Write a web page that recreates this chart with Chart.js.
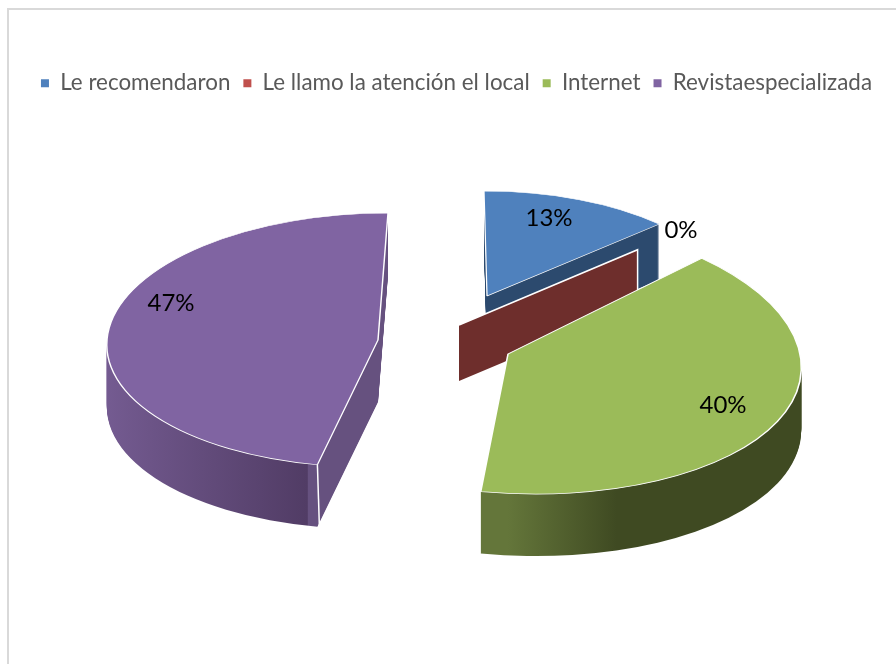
<!DOCTYPE html>
<html>
<head>
<meta charset="utf-8">
<style>
  html, body { margin: 0; background: #fff; overflow: hidden; }
  #frame { position: absolute; left: 7px; top: 8px; width: 889px; height: 656px; border-left: 2px solid #d9d9d9; border-top: 2px solid #d9d9d9; box-sizing: border-box; }
  canvas { position: absolute; left: 0; top: 0; }
</style>
<script src="https://cdn.jsdelivr.net/npm/chart.js@4"></script>
</head>
<body>
<div id="frame"></div>
<canvas id="pie3d" width="896" height="664"></canvas>
<script>
const categories = ['Le recomendaron', 'Le llamo la atención el local', 'Internet', 'Revistaespecializada'];
const shares = [13, 0, 40, 47];
const topColors = ['#4f81bd', '#c0504d', '#9bbb59', '#8064a2'];

// Excel's exploded 3D pie: every slice gets its own projection of the circle
const views = [
    { cx: 487, cy: 296, rx: 239, ry: 105, skew: 3, depth: 56 },
    { cx: 459, cy: 325, rx: 245, ry: 110, skew: 0, depth: 56 },
    { cx: 508, cy: 354, rx: 292, ry: 140, skew: 28, depth: 62 },
    { cx: 378, cy: 340, rx: 271, ry: 127, skew: -10, depth: 62 }
];

// side wall shading, [screen x, colour]
const wallStops = [
    [[480, '#2c4a6e'], [660, '#2c4a6e']],
    [[459, '#6e2e2c'], [640, '#6e2e2c']],
    [[480, '#64763a'], [590, '#3f4a22'], [800, '#3f4a22']],
    [[108, '#745b91'], [317, '#513c65'], [318, '#66517f'], [392, '#66517f']]
];

const labelSpots = [[549, 218], [681, 230], [723, 405], [171, 303]];

function applyView(ctx, arc, view, drop) {
    const R = arc.outerRadius;
    ctx.translate(view.cx, view.cy + drop);
    ctx.transform(view.rx / R, 0, view.skew / R, view.ry / R, 0, 0);
    ctx.translate(-arc.x, -arc.y);
}

function wallFill(ctx, arc, view, stops) {
    const R = arc.outerRadius;
    const toArc = sx => arc.x + (sx - view.cx) * R / view.rx;
    const x0 = toArc(stops[0][0]);
    const x1 = toArc(stops[stops.length - 1][0]);
    const grad = ctx.createLinearGradient(x0, 0, x1, 0);
    stops.forEach(s => grad.addColorStop((toArc(s[0]) - x0) / (x1 - x0), s[1]));
    return grad;
}

const pie3dPlugin = {
    id: 'pie3d',
    beforeDatasetsDraw(chart) {
        const ctx = chart.ctx;
        const arcs = chart.getDatasetMeta(0).data;
        arcs.forEach((arc, i) => {
            const view = views[i];
            const top = arc.options;
            if (arc.circumference === 0) {
                // empty slice: only its cut wall shows
                const a = arc.startAngle;
                const ox = arc.x + Math.cos(a) * arc.outerRadius;
                const oy = arc.y + Math.sin(a) * arc.outerRadius;
                const pt = (x, y, d) => {
                    const R = arc.outerRadius;
                    return [view.cx + (x - arc.x) * view.rx / R + (y - arc.y) * view.skew / R,
                            view.cy + (y - arc.y) * view.ry / R + d];
                };
                const p = [pt(arc.x, arc.y, 0), pt(ox, oy, 0), pt(ox, oy, view.depth), pt(arc.x, arc.y, view.depth)];
                ctx.save();
                ctx.beginPath();
                p.forEach((q, k) => k ? ctx.lineTo(q[0], q[1]) : ctx.moveTo(q[0], q[1]));
                ctx.closePath();
                ctx.fillStyle = wallStops[i][0][1];
                ctx.fill();
                ctx.beginPath();
                ctx.moveTo(p[0][0], p[0][1]);
                ctx.lineTo(p[1][0], p[1][1]);
                ctx.lineTo(p[2][0], p[2][1]);
                ctx.strokeStyle = '#fff';
                ctx.lineWidth = 1.5;
                ctx.stroke();
                ctx.restore();
                return;
            }
            ctx.save();
            applyView(ctx, arc, view, 0);
            const wall = wallFill(ctx, arc, view, wallStops[i]);
            ctx.restore();
            arc.options = Object.assign({}, top, { backgroundColor: wall, borderWidth: 0 });
            for (let d = view.depth; d > 0; d--) {
                ctx.save();
                applyView(ctx, arc, view, d);
                arc.draw(ctx);
                ctx.restore();
            }
            arc.options = top;
            ctx.save();
            applyView(ctx, arc, view, 0);
            arc.draw(ctx);
            ctx.restore();
        });
        // white corner where the purple rim meets its cut wall
        const last = arcs[3];
        const v = views[3];
        const cx = v.cx + Math.cos(last.startAngle) * v.rx + Math.sin(last.startAngle) * v.skew;
        const cy = v.cy + Math.sin(last.startAngle) * v.ry;
        ctx.save();
        ctx.strokeStyle = '#fff';
        ctx.lineWidth = 1.5;
        ctx.beginPath();
        ctx.moveTo(cx, cy);
        ctx.lineTo(cx + 2, cy + v.depth);
        ctx.stroke();
        ctx.restore();
        return false;
    },
    afterDraw(chart) {
        const ctx = chart.ctx;
        ctx.save();
        ctx.font = '24px Lato';
        ctx.fillStyle = '#000';
        ctx.textAlign = 'center';
        ctx.textBaseline = 'middle';
        shares.forEach((v, i) => ctx.fillText(v + '%', labelSpots[i][0], labelSpots[i][1]));
        ctx.restore();
    }
};

new Chart(document.getElementById('pie3d'), {
    type: 'pie',
    data: {
        labels: categories,
        datasets: [{
            data: shares,
            backgroundColor: topColors,
            borderColor: '#ffffff',
            borderWidth: 1.5
        }]
    },
    options: {
        responsive: false,
        animation: false,
        events: [],
        layout: { padding: { top: 59, left: 17 } },
        plugins: {
            tooltip: { enabled: false },
            legend: {
                position: 'top',
                labels: {
                    usePointStyle: true,
                    pointStyle: 'rect',
                    boxHeight: 8,
                    boxWidth: 8,
                    padding: 13,
                    color: '#595959',
                    font: { family: 'Lato', size: 22.4 },
                    generateLabels(chart) {
                        return Chart.overrides.pie.plugins.legend.labels.generateLabels(chart)
                            .map(item => Object.assign(item, { lineWidth: 0 }));
                    }
                }
            }
        }
    },
    plugins: [pie3dPlugin]
});
</script>
</body>
</html>
